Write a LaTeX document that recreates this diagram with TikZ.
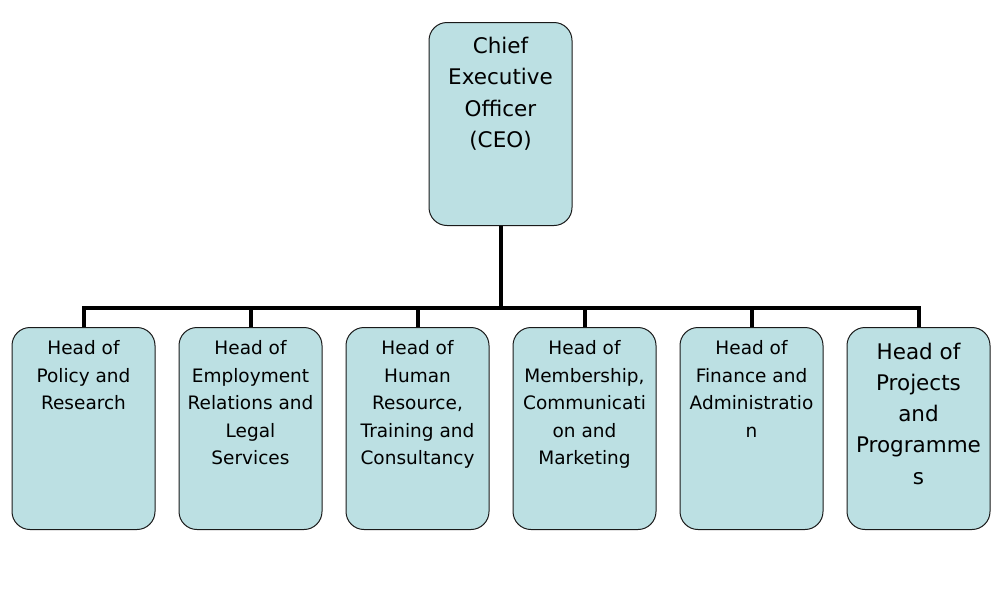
\documentclass[tikz,border=0pt]{standalone}
\usepackage{fontspec}
\setmainfont{DejaVu Sans}
\definecolor{boxfill}{HTML}{BCE0E3}
\definecolor{boxline}{HTML}{1A1A1A}
\begin{document}
\begin{tikzpicture}[x=1pt,y=-1pt,
  orgbox/.style={draw=boxline, line width=1pt, fill=boxfill, rounded corners=18pt,
    minimum width=143pt, minimum height=202pt, inner sep=0pt, anchor=north},
  smalltxt/.style={anchor=north, align=center, inner sep=0pt,
    font=\fontsize{18.5}{27.5}\selectfont},
  bigtxt/.style={anchor=north, align=center, inner sep=0pt,
    font=\fontsize{21.5}{31.3}\selectfont},
  conn/.style={draw=black, line width=4pt, miter limit=10}]
\useasboundingbox (0,0) rectangle (1006,595);
\fill[white] (0,0) rectangle (1006,595);
% CEO
\node[orgbox, minimum height=203pt] (ceo) at (500.5,22) {};
\node[bigtxt] (ceot) at ([yshift=-15pt]ceo.north) {Chief\\Executive\\Officer\\(CEO)};
% heads
\node[orgbox] (h1) at (83.5,327) {};
\node[orgbox] (h2) at (250.5,327) {};
\node[orgbox] (h3) at (417.5,327) {};
\node[orgbox] (h4) at (584.5,327) {};
\node[orgbox] (h5) at (751.5,327) {};
\node[orgbox] (h6) at (918.5,327) {};
\node[smalltxt] (h1t) at ([yshift=-13.5pt]h1.north) {Head of\\Policy and\\Research};
\node[smalltxt] (h2t) at ([yshift=-13.5pt]h2.north) {Head of\\Employment\\Relations and\\Legal\\Services};
\node[smalltxt] (h3t) at ([yshift=-13.5pt]h3.north) {Head of\\Human\\Resource,\\Training and\\Consultancy};
\node[smalltxt] (h4t) at ([yshift=-13.5pt]h4.north) {Head of\\Membership,\\Communicati\\on and\\Marketing};
\node[smalltxt] (h5t) at ([yshift=-13.5pt]h5.north) {Head of\\Finance and\\Administratio\\n};
\node[bigtxt] (h6t) at ([yshift=-15.5pt]h6.north) {Head of\\Projects\\and\\Programme\\s};
% connectors
\coordinate (bus) at (500.5,308);
\draw[conn] (ceo.south) -- (bus);
\draw[conn] (h1.north) |- (bus) -| (h6.north);
\foreach \i in {2,3,4,5} \draw[conn] (h\i.north) -- (h\i.north |- bus);
\end{tikzpicture}
\end{document}
